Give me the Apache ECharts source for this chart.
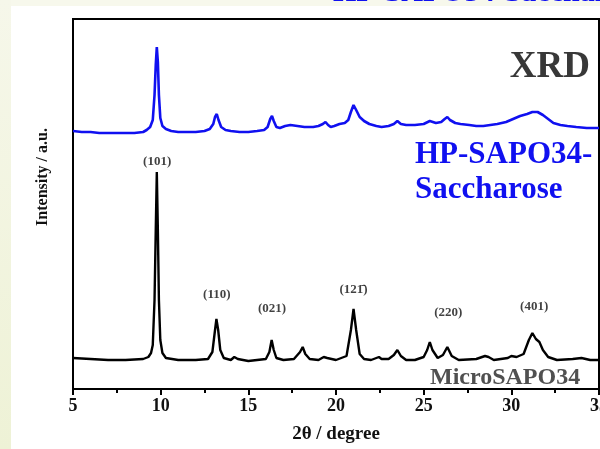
<!DOCTYPE html>
<html>
<head>
<meta charset="utf-8">
<script src="https://cdn.jsdelivr.net/npm/echarts@6/dist/echarts.min.js"></script>
<style>
  html, body { margin: 0; padding: 0; background: #ffffff; }
  #wrap { position: relative; width: 600px; height: 449px; background: #ffffff; overflow: hidden; }
  #topband { position: absolute; left: 0; top: 0; width: 600px; height: 6px; background: #f7f8ec; }
  #leftband { position: absolute; left: 0; top: 0; width: 11px; height: 449px;
              background: linear-gradient(to bottom, #f6f7ea, #eef2d6); }
  #chart { position: absolute; left: 0; top: 0; width: 600px; height: 449px; }
</style>
</head>
<body>
<div id="wrap">
  <div id="topband"></div>
  <div id="leftband"></div>
  <div id="chart"></div>
</div>
<script>
// 2θ positions (degree) and intensities (a.u., stacked offsets) of the two patterns
const microTheta = [5.0, 6.0, 7.0, 8.0, 9.0, 9.3, 9.45, 9.55, 9.65, 9.72, 9.78, 9.84, 9.9, 9.98, 10.1, 10.3,
  11.0, 12.0, 12.7, 12.95, 13.1, 13.18, 13.28, 13.4, 13.6, 14.0, 14.2, 14.3, 14.4, 15.0, 16.0, 16.2, 16.33,
  16.45, 16.6, 17.0, 17.6, 17.95, 18.1, 18.25, 18.5, 19.0, 19.3, 19.4, 19.5, 20.0, 20.6, 20.85, 21.0, 21.15,
  21.35, 21.6, 22.0, 22.3, 22.45, 22.6, 23.0, 23.3, 23.5, 23.7, 24.0, 24.5, 25.0, 25.2, 25.35, 25.5, 25.8,
  26.1, 26.35, 26.6, 27.0, 28.0, 28.5, 28.7, 29.0, 29.8, 30.0, 30.3, 30.7, 31.0, 31.2, 31.4, 31.6, 31.8,
  32.1, 32.6, 33.5, 34.0, 34.5, 35.0];
const microInt = [31, 30, 29, 29, 30, 32, 36, 44, 89, 159, 217, 159, 89, 49, 36, 31,
  29, 29, 30, 37, 59, 70, 59, 39, 31, 29, 32, 33, 30, 28, 30, 37, 49,
  39, 31, 29, 30, 37, 42, 35, 30, 29, 32, 34, 31, 29, 33, 59, 80, 59,
  35, 30, 29, 31, 32, 30, 30, 34, 39, 33, 29, 29, 32, 39, 47, 39, 31,
  34, 42, 33, 29, 30, 33, 32, 29, 31, 33, 32, 35, 49, 56, 50, 47, 39,
  32, 29, 30, 31, 29, 29];

const hpTheta = [5.0, 5.5, 6.0, 6.5, 7.0, 7.5, 8.0, 8.5, 9.0, 9.2, 9.4, 9.55, 9.65, 9.72, 9.78, 9.84, 9.9,
  9.98, 10.1, 10.3, 10.6, 11.0, 11.5, 12.0, 12.5, 12.8, 13.0, 13.1, 13.2, 13.3, 13.45, 13.7, 14.0, 14.5,
  15.0, 15.5, 15.9, 16.1, 16.25, 16.35, 16.45, 16.6, 16.8, 17.1, 17.4, 17.8, 18.2, 18.7, 19.0, 19.25, 19.4,
  19.55, 19.7, 19.9, 20.2, 20.5, 20.7, 20.85, 21.0, 21.15, 21.35, 21.6, 21.9, 22.3, 22.6, 23.0, 23.3, 23.5,
  23.7, 24.0, 24.5, 25.0, 25.35, 25.7, 26.0, 26.2, 26.35, 26.5, 26.8, 27.1, 27.6, 28.0, 28.4, 28.8, 29.2,
  29.7, 30.1, 30.5, 30.9, 31.2, 31.5, 31.8, 32.1, 32.4, 32.8, 33.2, 33.7, 34.3, 35.0];
const hpInt = [258, 257, 257, 256, 256, 256, 256, 256, 257, 259, 262, 269, 294, 324, 342, 327, 294,
  271, 263, 260, 258, 257, 257, 257, 258, 260, 265, 272, 275, 269, 262, 259, 258, 257,
  257, 258, 259, 262, 270, 273, 268, 262, 261, 263, 264, 263, 262, 262, 263, 265, 267,
  264, 262, 263, 265, 266, 269, 277, 284, 279, 272, 268, 265, 263, 262, 263, 265, 268,
  265, 264, 264, 265, 268, 266, 267, 270, 272, 269, 266, 265, 264, 263, 263, 264, 265,
  267, 270, 273, 275, 277, 277, 274, 270, 266, 264, 263, 262, 261, 261];

// Miller indices of the MicroSAPO34 reflections and where their labels sit
const peakNames = ['(101)', '(110)', '(021)', '(121\u0304)', '(220)', '(401)'];
const peakTheta = [9.8, 13.2, 16.35, 21.0, 26.4, 31.3];
const peakLabelInt = [227, 94, 80, 99, 76, 82];

// x-axis ticks
const xMin = 5, xMax = 35, xStep = 5;

const serif = 'Liberation Serif';

function pairs(xs, ys) { return xs.map((x, i) => [x, ys[i]]); }

const chart = echarts.init(document.getElementById('chart'), null, { renderer: 'canvas' });

chart.setOption({
  animation: false,
  grid: {
    left: 73, top: 19, right: 1, bottom: 60, show: true, borderColor: '#000', borderWidth: 2,
    containLabel: false, outerBoundsMode: 'none'
  },
  xAxis: {
    type: 'value', min: xMin, max: xMax, interval: xStep,
    axisLine: { show: true, onZero: false, lineStyle: { color: '#000', width: 2 } },
    axisTick: { show: true, length: 6, lineStyle: { color: '#000', width: 2 } },
    minorTick: { show: true, splitNumber: 2, length: 4, lineStyle: { color: '#000', width: 2 } },
    splitLine: { show: false },
    axisLabel: { color: '#111', fontFamily: serif, fontWeight: 'bold', fontSize: 18, margin: 8,
                 hideOverlap: false },
    name: '2\u03b8 / degree', nameLocation: 'middle', nameGap: 36,
    nameTextStyle: { color: '#111', fontFamily: serif, fontWeight: 'bold', fontSize: 19 }
  },
  yAxis: {
    type: 'value', min: 0, max: 370,
    axisLine: { show: true, lineStyle: { color: '#000', width: 2 } },
    axisTick: { show: false }, axisLabel: { show: false }, splitLine: { show: false }
  },
  series: [
    {
      name: 'HP-SAPO34-Saccharose', type: 'line', data: pairs(hpTheta, hpInt),
      showSymbol: false, smooth: false, lineStyle: { color: '#1010f0', width: 2.6 }, z: 3
    },
    {
      name: 'MicroSAPO34', type: 'line', data: pairs(microTheta, microInt),
      showSymbol: false, smooth: false, lineStyle: { color: '#000', width: 2.4 }, z: 3
    },
    {
      name: 'hkl', type: 'scatter', symbolSize: 0, silent: true,
      data: peakNames.map((n, i) => ({ name: n, value: [peakTheta[i], peakLabelInt[i]] })),
      label: {
        show: true, position: 'inside', formatter: p => p.name,
        color: '#111', fontFamily: serif, fontWeight: 'bold', fontSize: 13
      }
    }
  ],
  graphic: [
    { type: 'text', z: 100, x: 333, y: 8,
      style: { text: 'HP-SAPO34-Saccharose', fill: '#1010f0', font: 'bold 30px "Liberation Serif"',
               align: 'left', verticalAlign: 'bottom' } },
    { type: 'text', z: 100, x: 590, y: 86,
      style: { text: 'XRD', fill: '#383838', font: 'bold 37px "Liberation Serif"',
               align: 'right', verticalAlign: 'bottom' } },
    { type: 'text', z: 100, x: 415, y: 170,
      style: { text: 'HP-SAPO34-', fill: '#1010f0', font: 'bold 31px "Liberation Serif"',
               align: 'left', verticalAlign: 'bottom' } },
    { type: 'text', z: 100, x: 415, y: 205,
      style: { text: 'Saccharose', fill: '#1010f0', font: 'bold 31px "Liberation Serif"',
               align: 'left', verticalAlign: 'bottom' } },
    { type: 'text', z: 1, x: 430, y: 390,
      style: { text: 'MicroSAPO34', fill: '#505050', font: 'bold 24px "Liberation Serif"',
               align: 'left', verticalAlign: 'bottom' } },
    { type: 'text', z: 100, x: 43, y: 177, rotation: Math.PI / 2,
      style: { text: 'Intensity / a.u.', fill: '#111', font: 'bold 16px "Liberation Serif"',
               align: 'center', verticalAlign: 'middle' } }
  ]
});
</script>
</body>
</html>
